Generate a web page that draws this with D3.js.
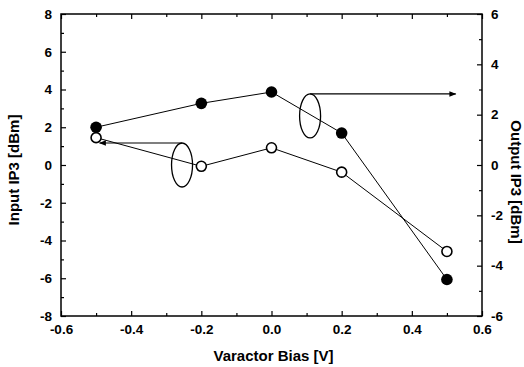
<!DOCTYPE html>
<html>
<head>
<meta charset="utf-8">
<script src="https://cdn.jsdelivr.net/npm/d3@7"></script>
<style>
  html, body { margin: 0; padding: 0; background: #fff; }
  svg { display: block; }
  text { font-family: "Liberation Sans", Arial, sans-serif; font-weight: bold; fill: #000; }
</style>
</head>
<body>
<svg id="chart" width="524" height="367"></svg>
<script>
// Varactor bias sweep (V)
const bias = [-0.5, -0.2, 0.0, 0.2, 0.5];
// Output IP3 (dBm), right axis, filled markers
const outputIP3 = [1.5, 2.45, 2.9, 1.27, -4.55];
// Input IP3 (dBm), left axis, open markers
const inputIP3 = [1.45, -0.07, 0.91, -0.38, -4.58];

const xTicks = [-0.6, -0.4, -0.2, 0.0, 0.2, 0.4, 0.6];
const xMinor = [-0.5, -0.3, -0.1, 0.1, 0.3, 0.5];
const leftTicks = [-8, -6, -4, -2, 0, 2, 4, 6, 8];
const leftMinor = [-7, -5, -3, -1, 1, 3, 5, 7];
const rightTicks = [-6, -4, -2, 0, 2, 4, 6];
const rightMinor = [-5, -3, -1, 1, 3, 5];

// Series grouping markers: ellipse around a series, arrow to its axis
const groupMarks = [
  { series: "input",  cx: -0.255, cy: 0.0, dir: -1, toX: -0.49 },
  { series: "output", cx: 0.11,   cy: 1.95, dir: 1, toX: 0.525 }
];

const svg = d3.select("#chart");
const L = 61, R = 482, T = 14, B = 316;

const x = d3.scaleLinear().domain([-0.6, 0.6]).range([L, R]);
const yL = d3.scaleLinear().domain([-8, 8]).range([B, T]);
const yR = d3.scaleLinear().domain([-6, 6]).range([B, T]);

svg.append("defs").append("marker")
  .attr("id", "arrow").attr("viewBox", "0 0 10 10")
  .attr("refX", 9).attr("refY", 5)
  .attr("markerWidth", 9).attr("markerHeight", 7)
  .attr("markerUnits", "userSpaceOnUse")
  .attr("orient", "auto")
  .append("path").attr("d", "M0,1 L10,5 L0,9 Z").attr("fill", "#000");

// plain hyphen minus signs on tick labels
const fmtX = d => d.toFixed(1);
const fmtY = d => String(d);

function styleAxis(g) {
  g.select(".domain").remove();
  g.selectAll(".tick line").attr("stroke", "#000").attr("stroke-width", 1.2);
  g.selectAll(".tick text").style("font-size", "13.5px");
}

// bottom axis (ticks inward)
svg.append("g").attr("transform", `translate(0,${B})`)
  .call(d3.axisBottom(x).tickValues(xTicks).tickFormat(fmtX).tickSizeInner(-5).tickSizeOuter(0).tickPadding(8))
  .call(styleAxis);
svg.append("g").attr("transform", `translate(0,${B})`)
  .call(d3.axisBottom(x).tickValues(xMinor).tickFormat("").tickSizeInner(-3).tickSizeOuter(0))
  .call(styleAxis);
// top axis ticks
svg.append("g").attr("transform", `translate(0,${T})`)
  .call(d3.axisTop(x).tickValues(xTicks).tickFormat("").tickSizeInner(-5).tickSizeOuter(0))
  .call(styleAxis);
svg.append("g").attr("transform", `translate(0,${T})`)
  .call(d3.axisTop(x).tickValues(xMinor).tickFormat("").tickSizeInner(-3).tickSizeOuter(0))
  .call(styleAxis);

// left axis
svg.append("g").attr("transform", `translate(${L},0)`)
  .call(d3.axisLeft(yL).tickValues(leftTicks).tickFormat(fmtY).tickSizeInner(-5).tickSizeOuter(0).tickPadding(9))
  .call(styleAxis);
svg.append("g").attr("transform", `translate(${L},0)`)
  .call(d3.axisLeft(yL).tickValues(leftMinor).tickFormat("").tickSizeInner(-3).tickSizeOuter(0))
  .call(styleAxis);

// right axis
svg.append("g").attr("transform", `translate(${R},0)`)
  .call(d3.axisRight(yR).tickValues(rightTicks).tickFormat(fmtY).tickSizeInner(-5).tickSizeOuter(0).tickPadding(9))
  .call(styleAxis);
svg.append("g").attr("transform", `translate(${R},0)`)
  .call(d3.axisRight(yR).tickValues(rightMinor).tickFormat("").tickSizeInner(-3).tickSizeOuter(0))
  .call(styleAxis);

// frame
svg.append("rect").attr("x", L).attr("y", T).attr("width", R - L).attr("height", B - T)
  .attr("fill", "none").attr("stroke", "#000").attr("stroke-width", 1.5);

// axis titles
svg.append("text").attr("x", (L + R) / 2 + 2).attr("y", 361).attr("text-anchor", "middle")
  .style("font-size", "15px").text("Varactor Bias [V]");
svg.append("text").attr("transform", "translate(19,170) rotate(-90)").attr("text-anchor", "middle")
  .style("font-size", "15px").text("Input IP3 [dBm]");
svg.append("text").attr("transform", "translate(511,182) rotate(90)").attr("text-anchor", "middle")
  .style("font-size", "15px").text("Output IP3 [dBm]");

// series lines
const inputData = bias.map((b, i) => [b, inputIP3[i]]);
const outputData = bias.map((b, i) => [b, outputIP3[i]]);

const lineL = d3.line().x(d => x(d[0])).y(d => yL(d[1]));
const lineR = d3.line().x(d => x(d[0])).y(d => yR(d[1]));

svg.append("path").attr("d", lineL(inputData)).attr("fill", "none").attr("stroke", "#000").attr("stroke-width", 1);
svg.append("path").attr("d", lineR(outputData)).attr("fill", "none").attr("stroke", "#000").attr("stroke-width", 1);

// grouping ellipses and arrows
groupMarks.forEach(m => {
  const ys = m.series === "input" ? yL : yR;
  const cx = x(m.cx), cy = ys(m.cy);
  const rx = 10.5, ry = 22;
  svg.append("ellipse").attr("cx", cx).attr("cy", cy).attr("rx", rx).attr("ry", ry)
    .attr("fill", "none").attr("stroke", "#000").attr("stroke-width", 1.3);
  svg.append("line").attr("x1", cx).attr("y1", cy - ry).attr("x2", x(m.toX)).attr("y2", cy - ry)
    .attr("stroke", "#000").attr("stroke-width", 1.2).attr("marker-end", "url(#arrow)");
});

// markers
svg.selectAll(".outPt").data(outputData).enter().append("circle")
  .attr("cx", d => x(d[0])).attr("cy", d => yR(d[1])).attr("r", 5.8).attr("fill", "#000");
svg.selectAll(".inPt").data(inputData).enter().append("circle")
  .attr("cx", d => x(d[0])).attr("cy", d => yL(d[1])).attr("r", 5)
  .attr("fill", "#fff").attr("stroke", "#000").attr("stroke-width", 1.6);
</script>
</body>
</html>
